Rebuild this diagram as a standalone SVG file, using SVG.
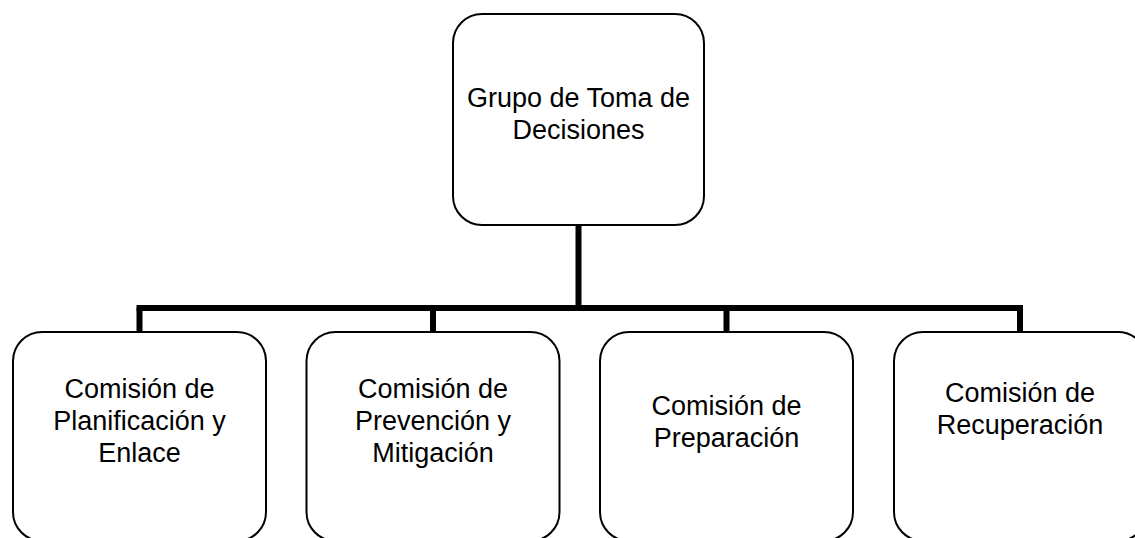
<svg xmlns="http://www.w3.org/2000/svg" width="1135" height="538" viewBox="0 0 1135 538">
<style>
.box{fill:#fff;stroke:#000;stroke-width:2}
.t{font-family:"Liberation Sans",Arial,sans-serif;font-size:27px;fill:#000;text-anchor:middle}
.c{fill:none;stroke:#000;stroke-width:6;stroke-linecap:butt}
</style>
<rect width="1135" height="538" fill="#fff"/>
<g id="connectors">
<path class="c" d="M578.5 225 V308"/>
<path class="c" d="M136.5 308 H1023"/>
<path class="c" d="M139.5 308 V333 M433 308 V333 M726.5 308 V333 M1020 308 V333"/>
</g>
<g id="top">
<rect class="box" x="453" y="14" width="251" height="211" rx="29"/>
<text class="t" x="578.5" y="107">Grupo de Toma de</text>
<text class="t" x="578.5" y="139">Decisiones</text>
</g>
<g id="n1">
<rect class="box" x="13" y="332" width="253" height="209" rx="29"/>
<text class="t" x="139.5" y="398">Comisión de</text>
<text class="t" x="139.5" y="430">Planificación y</text>
<text class="t" x="139.5" y="462">Enlace</text>
</g>
<g id="n2">
<rect class="box" x="306.5" y="332" width="253" height="209" rx="29"/>
<text class="t" x="433" y="398">Comisión de</text>
<text class="t" x="433" y="430">Prevención y</text>
<text class="t" x="433" y="462">Mitigación</text>
</g>
<g id="n3">
<rect class="box" x="600" y="332" width="253" height="209" rx="29"/>
<text class="t" x="726.5" y="415">Comisión de</text>
<text class="t" x="726.5" y="447">Preparación</text>
</g>
<g id="n4">
<rect class="box" x="894" y="332" width="253" height="209" rx="29"/>
<text class="t" x="1020" y="402">Comisión de</text>
<text class="t" x="1020" y="434">Recuperación</text>
</g>
</svg>
